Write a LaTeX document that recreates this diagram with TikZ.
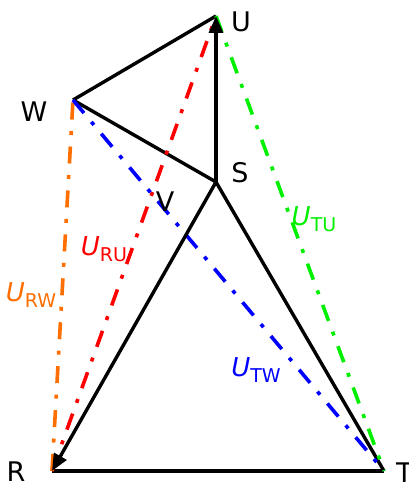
\documentclass[tikz,border=0pt]{standalone}
\usepackage{fontspec}
\setmainfont{DejaVu Sans}
\usetikzlibrary{arrows.meta}
\definecolor{cred}{RGB}{255,0,0}
\definecolor{cgreen}{RGB}{0,240,0}
\definecolor{cblue}{RGB}{0,0,255}
\definecolor{corange}{RGB}{255,110,0}
\newcommand{\ulab}[1]{\textit{U}\raisebox{-0.22em}{\fontsize{19}{19}\selectfont #1}}
\begin{document}
\begin{tikzpicture}[x=1pt,y=-1pt,
  edge/.style={line width=3.4pt,black},
  dd/.style={line width=3.6pt,dash pattern=on 17pt off 11.5pt on 4pt off 11.5pt},
  arr/.style={edge,-{Triangle[length=17pt,width=14pt]}},
  vlab/.style={font=\fontsize{27}{27}\selectfont,inner sep=0pt},
  clab/.style={font=\fontsize{26}{26}\selectfont,inner sep=0pt}]
\useasboundingbox (0,0) rectangle (409,484);
\coordinate (U) at (216,16);
\coordinate (W) at (73,100);
\coordinate (S) at (216,182);
\coordinate (R) at (52,471);
\coordinate (T) at (384,471);
% black edges
\draw[edge] (W) -- (U);
\draw[edge] (W) -- (S);
\draw[edge] (R) -- (T);
\draw[edge] (T) -- (S);
% colored voltages
\draw[dd,cred] (R) -- (U);
\draw[dd,corange] (R) -- (W);
\draw[dd,cblue] (W) -- (T);
\draw[dd,cgreen] (U) -- (T);
% arrows
\draw[arr] (S) -- (U);
\draw[arr] (S) -- (R);
% vertex labels
\node[vlab] (lU) at (241,22) {U};
\node[vlab] (lW) at (34,112) {W};
\node[vlab] (lS) at (240,173) {S};
\node[vlab] (lV) at (165,202) {V};
\node[vlab] (lR) at (16,472) {R};
\node[vlab,anchor=west] (lT) at (396,473) {T};
% voltage labels
\node[clab,text=cred] (uRU) at (104,249) {\ulab{RU}};
\node[clab,text=corange] (uRW) at (31,295) {\ulab{RW}};
\node[clab,text=cgreen] (uTU) at (314,219) {\ulab{TU}};
\node[clab,text=cblue] (uTW) at (256,370) {\ulab{TW}};
\end{tikzpicture}
\end{document}
